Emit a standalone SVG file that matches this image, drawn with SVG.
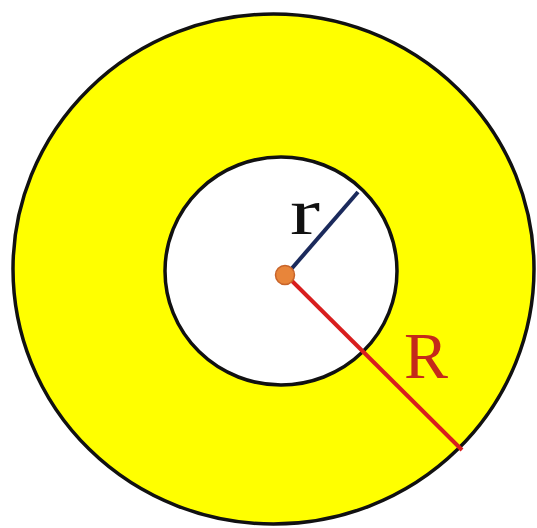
<svg xmlns="http://www.w3.org/2000/svg" width="537" height="528" viewBox="0 0 537 528">
<style>
.ring{stroke:#111;stroke-width:3.5}
.lbl{font-family:"Liberation Serif","Times New Roman",serif;font-size:66px}
</style>
<rect width="537" height="528" fill="#ffffff"/>
<g id="outer">
<ellipse class="ring" cx="273.5" cy="269" rx="260.5" ry="255" fill="#ffff00"/>
</g>
<g id="inner">
<ellipse class="ring" cx="281" cy="271" rx="116" ry="114" fill="#ffffff"/>
</g>
<g id="connectors">
<line id="radius-r" x1="287" y1="274" x2="358" y2="192" stroke="#1b2a5c" stroke-width="4"/>
<line id="radius-R" x1="287" y1="276" x2="462" y2="450" stroke="#d81e1e" stroke-width="4"/>
</g>
<g id="center">
<circle cx="285" cy="275" r="9.5" fill="#e8853a" stroke="#c8642a" stroke-width="1.5"/>
</g>
<g id="label-r">
<text class="lbl" x="290" y="234" fill="#111" textLength="30" lengthAdjust="spacingAndGlyphs">r</text>
</g>
<g id="label-R">
<text class="lbl" x="404" y="378" fill="#c42a1a" textLength="44" lengthAdjust="spacingAndGlyphs">R</text>
</g>
</svg>
